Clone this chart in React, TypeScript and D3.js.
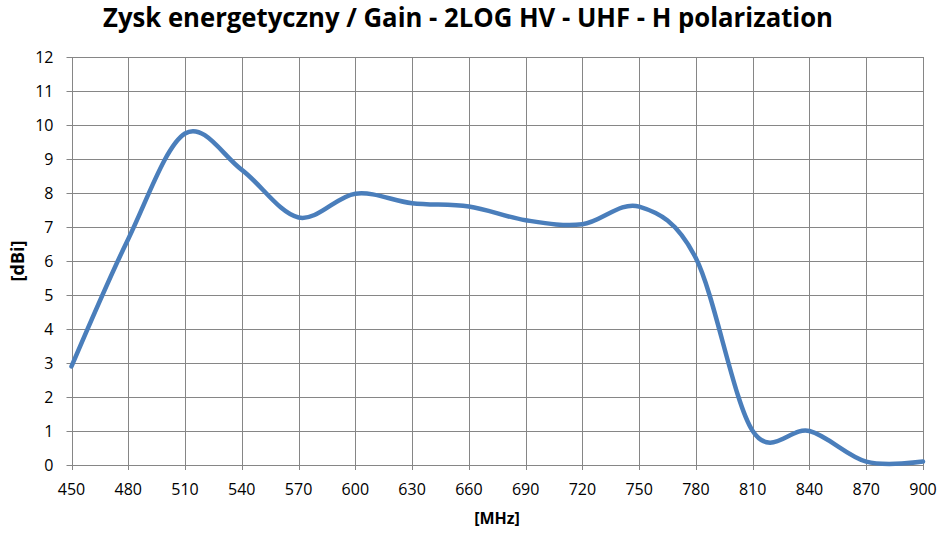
import React, { useEffect, useRef } from 'react';
import * as d3 from 'd3';

const frequencies = [450, 480, 510, 540, 570, 600, 630, 660, 690, 720, 750, 780, 810, 840, 870, 900];
const gain = [2.9, 6.65, 9.75, 8.68, 7.28, 7.98, 7.7, 7.6, 7.2, 7.08, 7.6, 6.08, 1.0, 1.0, 0.1, 0.1];
const xTicks = [450, 480, 510, 540, 570, 600, 630, 660, 690, 720, 750, 780, 810, 840, 870, 900];
const yTicks = [0, 1, 2, 3, 4, 5, 6, 7, 8, 9, 10, 11, 12];

const title = 'Zysk energetyczny / Gain - 2LOG HV - UHF - H polarization';

const GainChart: React.FC = () => {
  const ref = useRef<SVGSVGElement | null>(null);

  useEffect(() => {
    const svg = d3.select(ref.current);
    const width = 944;
    const height = 534;
    const margin = { top: 57, right: 21, bottom: 69, left: 71.5 };
    const font = 'Open Sans, Liberation Sans, sans-serif';

    svg.selectAll('*').remove();
    svg.attr('width', width).attr('height', height).attr('viewBox', `0 0 ${width} ${height}`);

    const x = d3
      .scaleLinear()
      .domain([450, 900])
      .range([margin.left, width - margin.right]);

    const y = d3
      .scaleLinear()
      .domain([0, 12])
      .range([height - margin.bottom, margin.top]);

    svg.append('rect').attr('width', width).attr('height', height).attr('fill', '#ffffff');

    // grid
    const grid = svg.append('g').attr('stroke', '#868686').attr('stroke-width', 1);
    grid
      .selectAll('line.h')
      .data(yTicks)
      .join('line')
      .attr('class', 'h')
      .attr('x1', margin.left - 5)
      .attr('x2', width - margin.right)
      .attr('y1', d => Math.round(y(d)) + 0.5)
      .attr('y2', d => Math.round(y(d)) + 0.5);
    grid
      .selectAll('line.v')
      .data(xTicks)
      .join('line')
      .attr('class', 'v')
      .attr('x1', d => Math.round(x(d)) + 0.5)
      .attr('x2', d => Math.round(x(d)) + 0.5)
      .attr('y1', margin.top)
      .attr('y2', height - margin.bottom + 5);

    // tick labels
    svg
      .append('g')
      .attr('font-family', font)
      .attr('font-size', 16)
      .attr('fill', '#000')
      .attr('text-anchor', 'end')
      .selectAll('text')
      .data(yTicks)
      .join('text')
      .attr('x', margin.left - 18)
      .attr('y', d => y(d))
      .attr('dy', '0.36em')
      .text(d => d);

    svg
      .append('g')
      .attr('font-family', font)
      .attr('font-size', 16)
      .attr('fill', '#000')
      .attr('text-anchor', 'middle')
      .selectAll('text')
      .data(xTicks)
      .join('text')
      .attr('x', d => x(d))
      .attr('y', height - margin.bottom + 30)
      .text(d => d);

    // line
    const line = d3
      .line<number>()
      .x((_, i) => x(frequencies[i]))
      .y(d => y(d))
      .curve(d3.curveCardinal.tension(0));

    svg
      .append('path')
      .datum(gain)
      .attr('fill', 'none')
      .attr('stroke', '#4a7ebb')
      .attr('stroke-width', 4.5)
      .attr('stroke-linecap', 'round')
      .attr('d', line);

    // titles
    svg
      .append('text')
      .attr('x', 468)
      .attr('y', 27)
      .attr('text-anchor', 'middle')
      .attr('font-family', font)
      .attr('font-weight', 'bold')
      .attr('font-size', 26)
      .attr('textLength', 730)
      .attr('lengthAdjust', 'spacingAndGlyphs')
      .text(title);

    svg
      .append('text')
      .attr('x', 497)
      .attr('y', 524)
      .attr('text-anchor', 'middle')
      .attr('font-family', font)
      .attr('font-weight', 'bold')
      .attr('font-size', 16)
      .text('[MHz]');

    svg
      .append('text')
      .attr('transform', `translate(24,${(margin.top + height - margin.bottom) / 2}) rotate(-90)`)
      .attr('text-anchor', 'middle')
      .attr('font-family', font)
      .attr('font-weight', 'bold')
      .attr('font-size', 18)
      .text('[dBi]');
  }, []);

  return <svg ref={ref} style={{ position: 'absolute', left: 0, top: 0 }}></svg>;
};

export default function App() {
  return <GainChart />;
}
